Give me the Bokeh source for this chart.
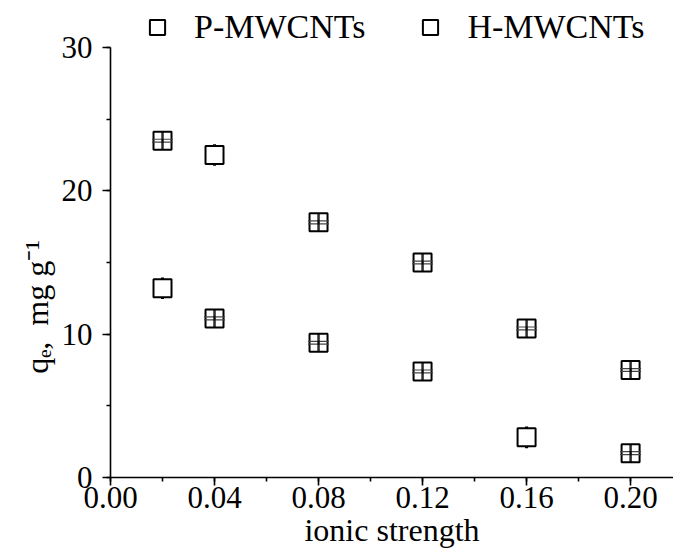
from bokeh.plotting import figure
from bokeh.models import (ColumnDataSource, Whisker, TeeHead, Legend, LegendItem,
                          SingleIntervalTicker, Range1d)
from bokeh.embed import file_html
from bokeh.resources import INLINE

# ---- data ----
ionic_strength = [0.02, 0.04, 0.08, 0.12, 0.16, 0.20]
p_mwcnts = [23.5, 22.5, 17.8, 15.0, 10.4, 7.5]
h_mwcnts = [13.2, 11.1, 9.4, 7.4, 2.8, 1.7]
p_err = [0.1, 0.7, 0.1, 0.1, 0.1, 0.1]
h_err = [0.7, 0.1, 0.1, 0.1, 0.7, 0.1]
x_err = 0.0002
series_names = ["P-MWCNTs", "H-MWCNTs"]
x_ticks = [0.00, 0.04, 0.08, 0.12, 0.16, 0.20]
y_ticks = [0, 10, 20, 30]

FONT = "Liberation Serif"
NB = "\u00a0"

p = figure(width=673, height=552, output_backend="svg", toolbar_location=None,
           x_range=Range1d(0, 0.2165), y_range=Range1d(0, 33.28),
           min_border_left=110, min_border_right=0, min_border_top=0,
           min_border_bottom=75)
p.outline_line_color = None
p.grid.visible = False
p.background_fill_color = "white"

for ax in (p.xaxis[0], p.yaxis[0]):
    ax.axis_line_width = 1.6
    ax.major_tick_line_width = 1.6
    ax.minor_tick_line_width = 1.6
    ax.major_tick_out = 8
    ax.major_tick_in = 0
    ax.minor_tick_out = 4
    ax.minor_tick_in = 0
    ax.major_label_text_font = FONT
    ax.major_label_text_font_size = "31px"
    ax.major_label_text_color = "black"
    ax.axis_line_color = "black"
    ax.major_tick_line_color = "black"
    ax.minor_tick_line_color = "black"
    ax.axis_label_text_font = FONT
    ax.axis_label_text_font_size = "32px"
    ax.axis_label_text_font_style = "normal"
    ax.axis_label_text_color = "black"

p.xaxis.ticker = SingleIntervalTicker(interval=0.04, num_minor_ticks=2)
p.yaxis.ticker = SingleIntervalTicker(interval=10, num_minor_ticks=2)
p.yaxis.bounds = (y_ticks[0], y_ticks[-1])
p.xaxis.major_label_overrides = {t: f"{t:.2f}" for t in x_ticks}
p.xaxis.major_label_standoff = 1
p.yaxis.major_label_standoff = 10
p.xaxis.axis_label = "ionic strength"
p.xaxis.axis_label_standoff = 1
# trailing no-break spaces keep the visible label centred on the 0-30 axis span
p.yaxis.axis_label = "q\u2091," + NB * 2 + "mg g\u207b\u00b9" + NB * 17
p.yaxis.axis_label_standoff = 4

renderers = []
for yvals, errs in ((p_mwcnts, p_err), (h_mwcnts, h_err)):
    big = [i for i, e in enumerate(errs) if e > 0.5]
    small = [i for i, e in enumerate(errs) if e <= 0.5]
    sb = ColumnDataSource(dict(x=[ionic_strength[i] for i in big],
                               lo=[yvals[i] - errs[i] for i in big],
                               hi=[yvals[i] + errs[i] for i in big]))
    p.add_layout(Whisker(source=sb, base="x", lower="lo", upper="hi", dimension="height",
                         level="underlay", line_width=1.5, line_color="black",
                         upper_head=TeeHead(size=3, line_width=1.5),
                         lower_head=TeeHead(size=3, line_width=1.5)))
    r = p.scatter(ionic_strength, yvals, marker="square", size=18, fill_color="white",
                  line_color="black", line_width=2)
    renderers.append(r)
    ss = ColumnDataSource(dict(x=[ionic_strength[i] for i in small],
                               y=[yvals[i] for i in small],
                               lo=[yvals[i] - errs[i] for i in small],
                               hi=[yvals[i] + errs[i] for i in small],
                               xlo=[ionic_strength[i] - x_err for i in small],
                               xhi=[ionic_strength[i] + x_err for i in small]))
    p.add_layout(Whisker(source=ss, base="x", lower="lo", upper="hi", dimension="height",
                         level="overlay", line_width=1.2, line_color="black",
                         upper_head=TeeHead(size=21, line_width=1.2, line_color="#444444"),
                         lower_head=TeeHead(size=21, line_width=1.2, line_color="#444444")))
    p.add_layout(Whisker(source=ss, base="y", lower="xlo", upper="xhi", dimension="width",
                         level="overlay", line_width=1.2, line_color="black",
                         upper_head=TeeHead(size=18, line_width=1.2),
                         lower_head=TeeHead(size=18, line_width=1.2)))

legend = Legend(items=[LegendItem(label=series_names[0], renderers=[renderers[0]]),
                       LegendItem(label=series_names[1], renderers=[renderers[1]])],
                orientation="horizontal", location=(28, 431),
                glyph_width=38, glyph_height=38, label_standoff=18, spacing=46,
                padding=0, margin=0, border_line_color=None,
                background_fill_alpha=0, label_text_font=FONT,
                label_text_font_size="34px", label_text_color="black", label_height=38)
p.add_layout(legend, "center")

open("out.html", "w").write(file_html(p, INLINE))
